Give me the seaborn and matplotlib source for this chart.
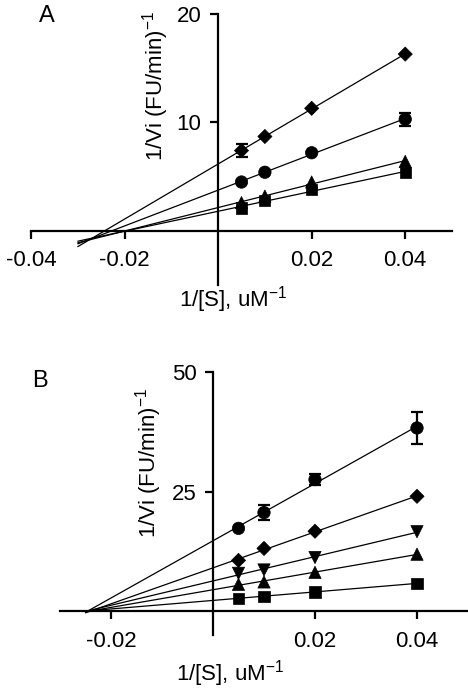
import numpy as np
import pandas as pd
import matplotlib
matplotlib.use('Agg')
import matplotlib.pyplot as plt
import seaborn as sns

# 1/[S] values (uM^-1)
inv_s = [0.005, 0.01, 0.02, 0.04]

# panel A: 1/Vi per series
a_diamond = [7.4, 8.7, 11.3, 16.3]
a_circle = [4.5, 5.4, 7.2, 10.3]
a_triangle = [2.6, 3.2, 4.5, 6.4]
a_square = [2.1, 2.8, 3.8, 5.4]
a_diamond_err = [0.6, 0.0, 0.0, 0.0]
a_circle_err = [0.0, 0.0, 0.0, 0.6]
a_none_err = [0.0, 0.0, 0.0, 0.0]

# panel B
b_circle = [17.3, 20.6, 27.5, 38.3]
b_diamond = [10.6, 13.1, 16.7, 24.0]
b_down = [7.9, 8.6, 11.2, 16.6]
b_up = [5.6, 6.1, 8.1, 11.9]
b_square = [2.7, 3.1, 4.0, 5.8]
b_circle_err = [0.0, 1.5, 1.2, 3.4]
b_none_err = [0.0, 0.0, 0.0, 0.0]

markers = {'diamond': 'D', 'circle': 'o', 'up': '^', 'down': 'v', 'square': 's'}
sizes = {'diamond': 52, 'circle': 80, 'up': 78, 'down': 78, 'square': 64}

sns.set_style('ticks')
plt.rcParams['font.family'] = ['Liberation Sans', 'DejaVu Sans']
plt.rcParams['mathtext.fontset'] = 'custom'
plt.rcParams['mathtext.rm'] = 'Liberation Sans'
plt.rcParams['text.color'] = 'black'
plt.rcParams['xtick.color'] = 'black'
plt.rcParams['ytick.color'] = 'black'
plt.rcParams['axes.edgecolor'] = 'black'

FS = 16
YLAB = '1/Vi (FU/min)$^{\\mathregular{-1}}$'
XLAB = '1/[S], uM$^{\\mathregular{-1}}$'


def make_df(series):
    rows = []
    for name, vals, err in series:
        for x, y, e in zip(inv_s, vals, err):
            rows.append({'inv_s': x, 'inv_v': y, 'err': e, 'series': name})
    return pd.DataFrame(rows)


def draw_panel(ax, df, x_start, xlim, ylim, yticks, xticks):
    # fitted lines, extended back past the y axis
    for name, grp in df.groupby('series'):
        k, b = np.polyfit(grp['inv_s'], grp['inv_v'], 1)
        xs = np.array([x_start, max(inv_s)])
        ax.plot(xs, k * xs + b, color='black', lw=0.9, zorder=2)
    eb = df[df['err'] > 0]
    ax.errorbar(eb['inv_s'], eb['inv_v'], yerr=eb['err'], fmt='none',
                ecolor='black', elinewidth=1.6, capsize=4, capthick=1.6, zorder=3)
    sns.scatterplot(data=df, x='inv_s', y='inv_v', style='series', markers=markers,
                    size='series', sizes=sizes, color='black', edgecolor='black',
                    linewidth=0.5, legend=False, ax=ax, zorder=4)
    ax.set_xlim(*xlim)
    ax.set_ylim(*ylim)
    ax.spines['left'].set_position(('data', 0))
    ax.spines['bottom'].set_position(('data', 0))
    ax.spines['top'].set_visible(False)
    ax.spines['right'].set_visible(False)
    for s in ('left', 'bottom'):
        ax.spines[s].set_linewidth(1.6)
        ax.spines[s].set_color('black')
    ax.set_xticks(xticks)
    ax.set_xticklabels([f'{t:g}' for t in xticks])
    ax.set_yticks(yticks)
    ax.tick_params(axis='x', direction='out', length=6, width=1.6, pad=8, labelsize=FS)
    ax.tick_params(axis='y', direction='out', length=6, width=1.6, pad=6, labelsize=FS)
    ax.set_xlabel('')
    ax.set_ylabel('')


fig = plt.figure(figsize=(4.68, 6.9), dpi=100)
W, H = 468, 690

# panel A
axA = fig.add_axes([31 / W, 1 - 285 / H, 421 / W, 271 / H])
dfA = make_df([('diamond', a_diamond, a_diamond_err),
               ('circle', a_circle, a_circle_err),
               ('up', a_triangle, a_none_err),
               ('square', a_square, a_none_err)])
draw_panel(axA, dfA, -0.03, (-0.04, 0.05), (-5, 20), [10, 20], [-0.04, -0.02, 0.02, 0.04])
axA.text(0.297, 0.734, YLAB, rotation=90, ha='center', va='center', fontsize=FS,
         transform=axA.transAxes)
axA.text(0.48, -0.055, XLAB, ha='center', va='center', fontsize=FS, transform=axA.transAxes)
fig.text(47 / W, 1 - 16 / H, 'A', ha='center', va='center', fontsize=17)

# panel B
axB = fig.add_axes([60 / W, 1 - 635 / H, 408 / W, 263 / H])
dfB = make_df([('circle', b_circle, b_circle_err),
               ('diamond', b_diamond, b_none_err),
               ('down', b_down, b_none_err),
               ('up', b_up, b_none_err),
               ('square', b_square, b_none_err)])
draw_panel(axB, dfB, -0.025, (-0.03, 0.05), (-5, 50), [25, 50], [-0.02, 0.02, 0.04])
axB.text(0.218, 0.654, YLAB, rotation=90, ha='center', va='center', fontsize=FS,
         transform=axB.transAxes)
axB.text(0.417, -0.148, XLAB, ha='center', va='center', fontsize=FS, transform=axB.transAxes)
fig.text(40 / W, 1 - 381 / H, 'B', ha='center', va='center', fontsize=17)

fig.savefig('out.png', dpi=100)
